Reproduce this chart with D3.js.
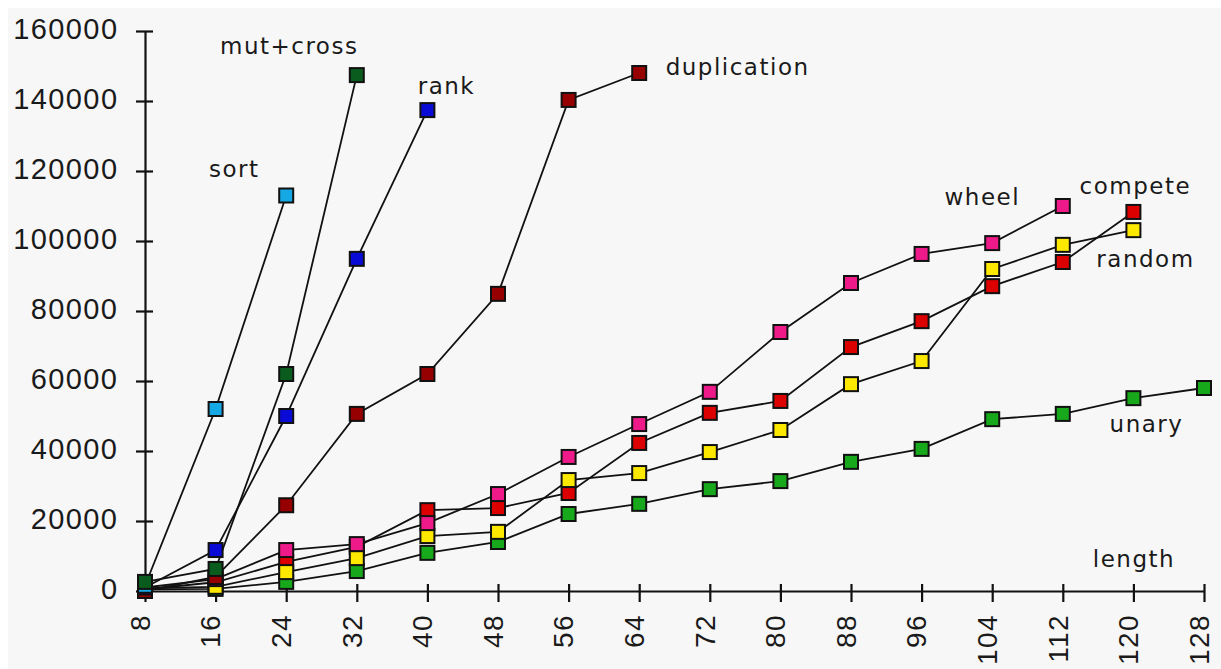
<!DOCTYPE html>
<html>
<head>
<meta charset="utf-8">
<script src="https://cdn.jsdelivr.net/npm/d3@7/dist/d3.min.js"></script>
<style>
  html, body { margin: 0; padding: 0; background: #ffffff; }
  svg { display: block; }
  .lbl { font-family: "DejaVu Sans", sans-serif; font-size: 23px; letter-spacing: 1.5px; fill: #1a1a1a; }
  .tick text { font-family: "Liberation Sans", Arial, sans-serif; font-size: 29px; letter-spacing: 1.4px; fill: #1a1a1a; }
  .xaxis .tick text { font-size: 28px; }
</style>
</head>
<body>
<svg id="chart" width="1221" height="669"></svg>
<script>
// Program length on the x axis, evaluations on the y axis
const lengths = [8, 16, 24, 32, 40, 48, 56, 64, 72, 80, 88, 96, 104, 112, 120, 128];
const yTicks = [0, 20000, 40000, 60000, 80000, 100000, 120000, 140000, 160000];

const sortVals        = [1500, 52000, 113000];
const mutCrossVals    = [2600, 6300, 62000, 147400];
const rankVals        = [1000, 11700, 50000, 94900, 137400];
const duplicationVals = [0, 4000, 24500, 50600, 62000, 84900, 140300, 148000];
const wheelVals   = [1000, 3400, 11700, 13400, 19400, 27700, 38300, 47700, 56900, 74000, 88000, 96300, 99400, 110000];
const competeVals = [500, 2500, 8300, 12600, 23100, 23700, 28000, 42300, 50900, 54300, 69700, 77100, 87100, 94000, 108300];
const randomVals  = [800, 1200, 5400, 9400, 15700, 16900, 31700, 33700, 39700, 46000, 59100, 65700, 92000, 98900, 103100];
const unaryVals   = [500, 600, 2600, 5700, 10900, 14000, 22000, 24900, 29100, 31400, 36900, 40600, 49100, 50600, 55100, 58000];

const seriesNames  = ["compete", "unary", "random", "wheel", "duplication", "rank", "sort", "mut+cross"];
const seriesValues = [competeVals, unaryVals, randomVals, wheelVals, duplicationVals, rankVals, sortVals, mutCrossVals];
const seriesColors = ["#dc0000", "#17a81c", "#fde800", "#ee1a8a", "#960000", "#0a0ad6", "#14a8e4", "#0a5c1e"];

// Name tags placed next to each curve (data coordinates of the text baseline start)
const tagNames = ["sort", "mut+cross", "rank", "duplication", "wheel", "compete", "random", "unary", "length"];
const tagX     = [15.25, 16.5, 38.9, 67.0, 98.6, 113.9, 115.8, 117.3, 115.4];
const tagY     = [118300, 153400, 142000, 147400, 110300, 113400, 92600, 45400, 6900];

const svg = d3.select("#chart");
const W = 1221, H = 669;

// Light gray plotting field
svg.append("rect").attr("x", 8).attr("y", 8).attr("width", W - 8).attr("height", H - 8).attr("fill", "#f7f7f7");

const x = d3.scaleLinear().domain([8, 128]).range([145, 1204]);
const y = d3.scaleLinear().domain([0, 160000]).range([591, 31]);

// Y axis
const yAxis = svg.append("g").attr("transform", `translate(${x(8)},0)`)
  .call(d3.axisLeft(y).tickValues(yTicks).tickFormat(d3.format("d")).tickSizeOuter(0).tickPadding(22));
yAxis.select(".domain").attr("stroke", "#111").attr("stroke-width", 2.2);
yAxis.selectAll(".tick line").attr("x1", -9).attr("x2", 8).attr("stroke", "#111").attr("stroke-width", 2.2);
yAxis.selectAll(".tick text").attr("dx", "1.4px").attr("dy", "0.25em");

// X axis with rotated labels reading upward
const xAxis = svg.append("g").attr("class", "xaxis").attr("transform", `translate(0,${y(0)})`)
  .call(d3.axisBottom(x).tickValues(lengths).tickFormat(d3.format("d")).tickSizeOuter(0));
xAxis.select(".domain").attr("stroke", "#111").attr("stroke-width", 2.2);
xAxis.selectAll(".tick line").attr("y1", -7).attr("y2", 11).attr("stroke", "#111").attr("stroke-width", 2.2);
xAxis.selectAll(".tick text")
  .attr("transform", "rotate(-90)")
  .attr("text-anchor", "end")
  .attr("x", -23).attr("y", 0).attr("dy", "0.15em");

// Curves and square markers
const line = d3.line().x((d, i) => x(lengths[i])).y(d => y(d));
const S = 14;
seriesValues.forEach((vals) => {
  svg.append("path").datum(vals).attr("d", line)
    .attr("fill", "none").attr("stroke", "#111").attr("stroke-width", 1.8);
});
seriesValues.forEach((vals, k) => {
  svg.append("g").selectAll("rect").data(vals).join("rect")
    .attr("x", (d, i) => x(lengths[i]) - S / 2)
    .attr("y", d => y(d) - S / 2)
    .attr("width", S).attr("height", S)
    .attr("fill", seriesColors[k]).attr("stroke", "#111").attr("stroke-width", 2);
});

// Tags
svg.append("g").selectAll("text").data(tagNames).join("text")
  .attr("class", "lbl")
  .attr("x", (d, i) => x(tagX[i]))
  .attr("y", (d, i) => y(tagY[i]))
  .text(d => d);
</script>
</body>
</html>
